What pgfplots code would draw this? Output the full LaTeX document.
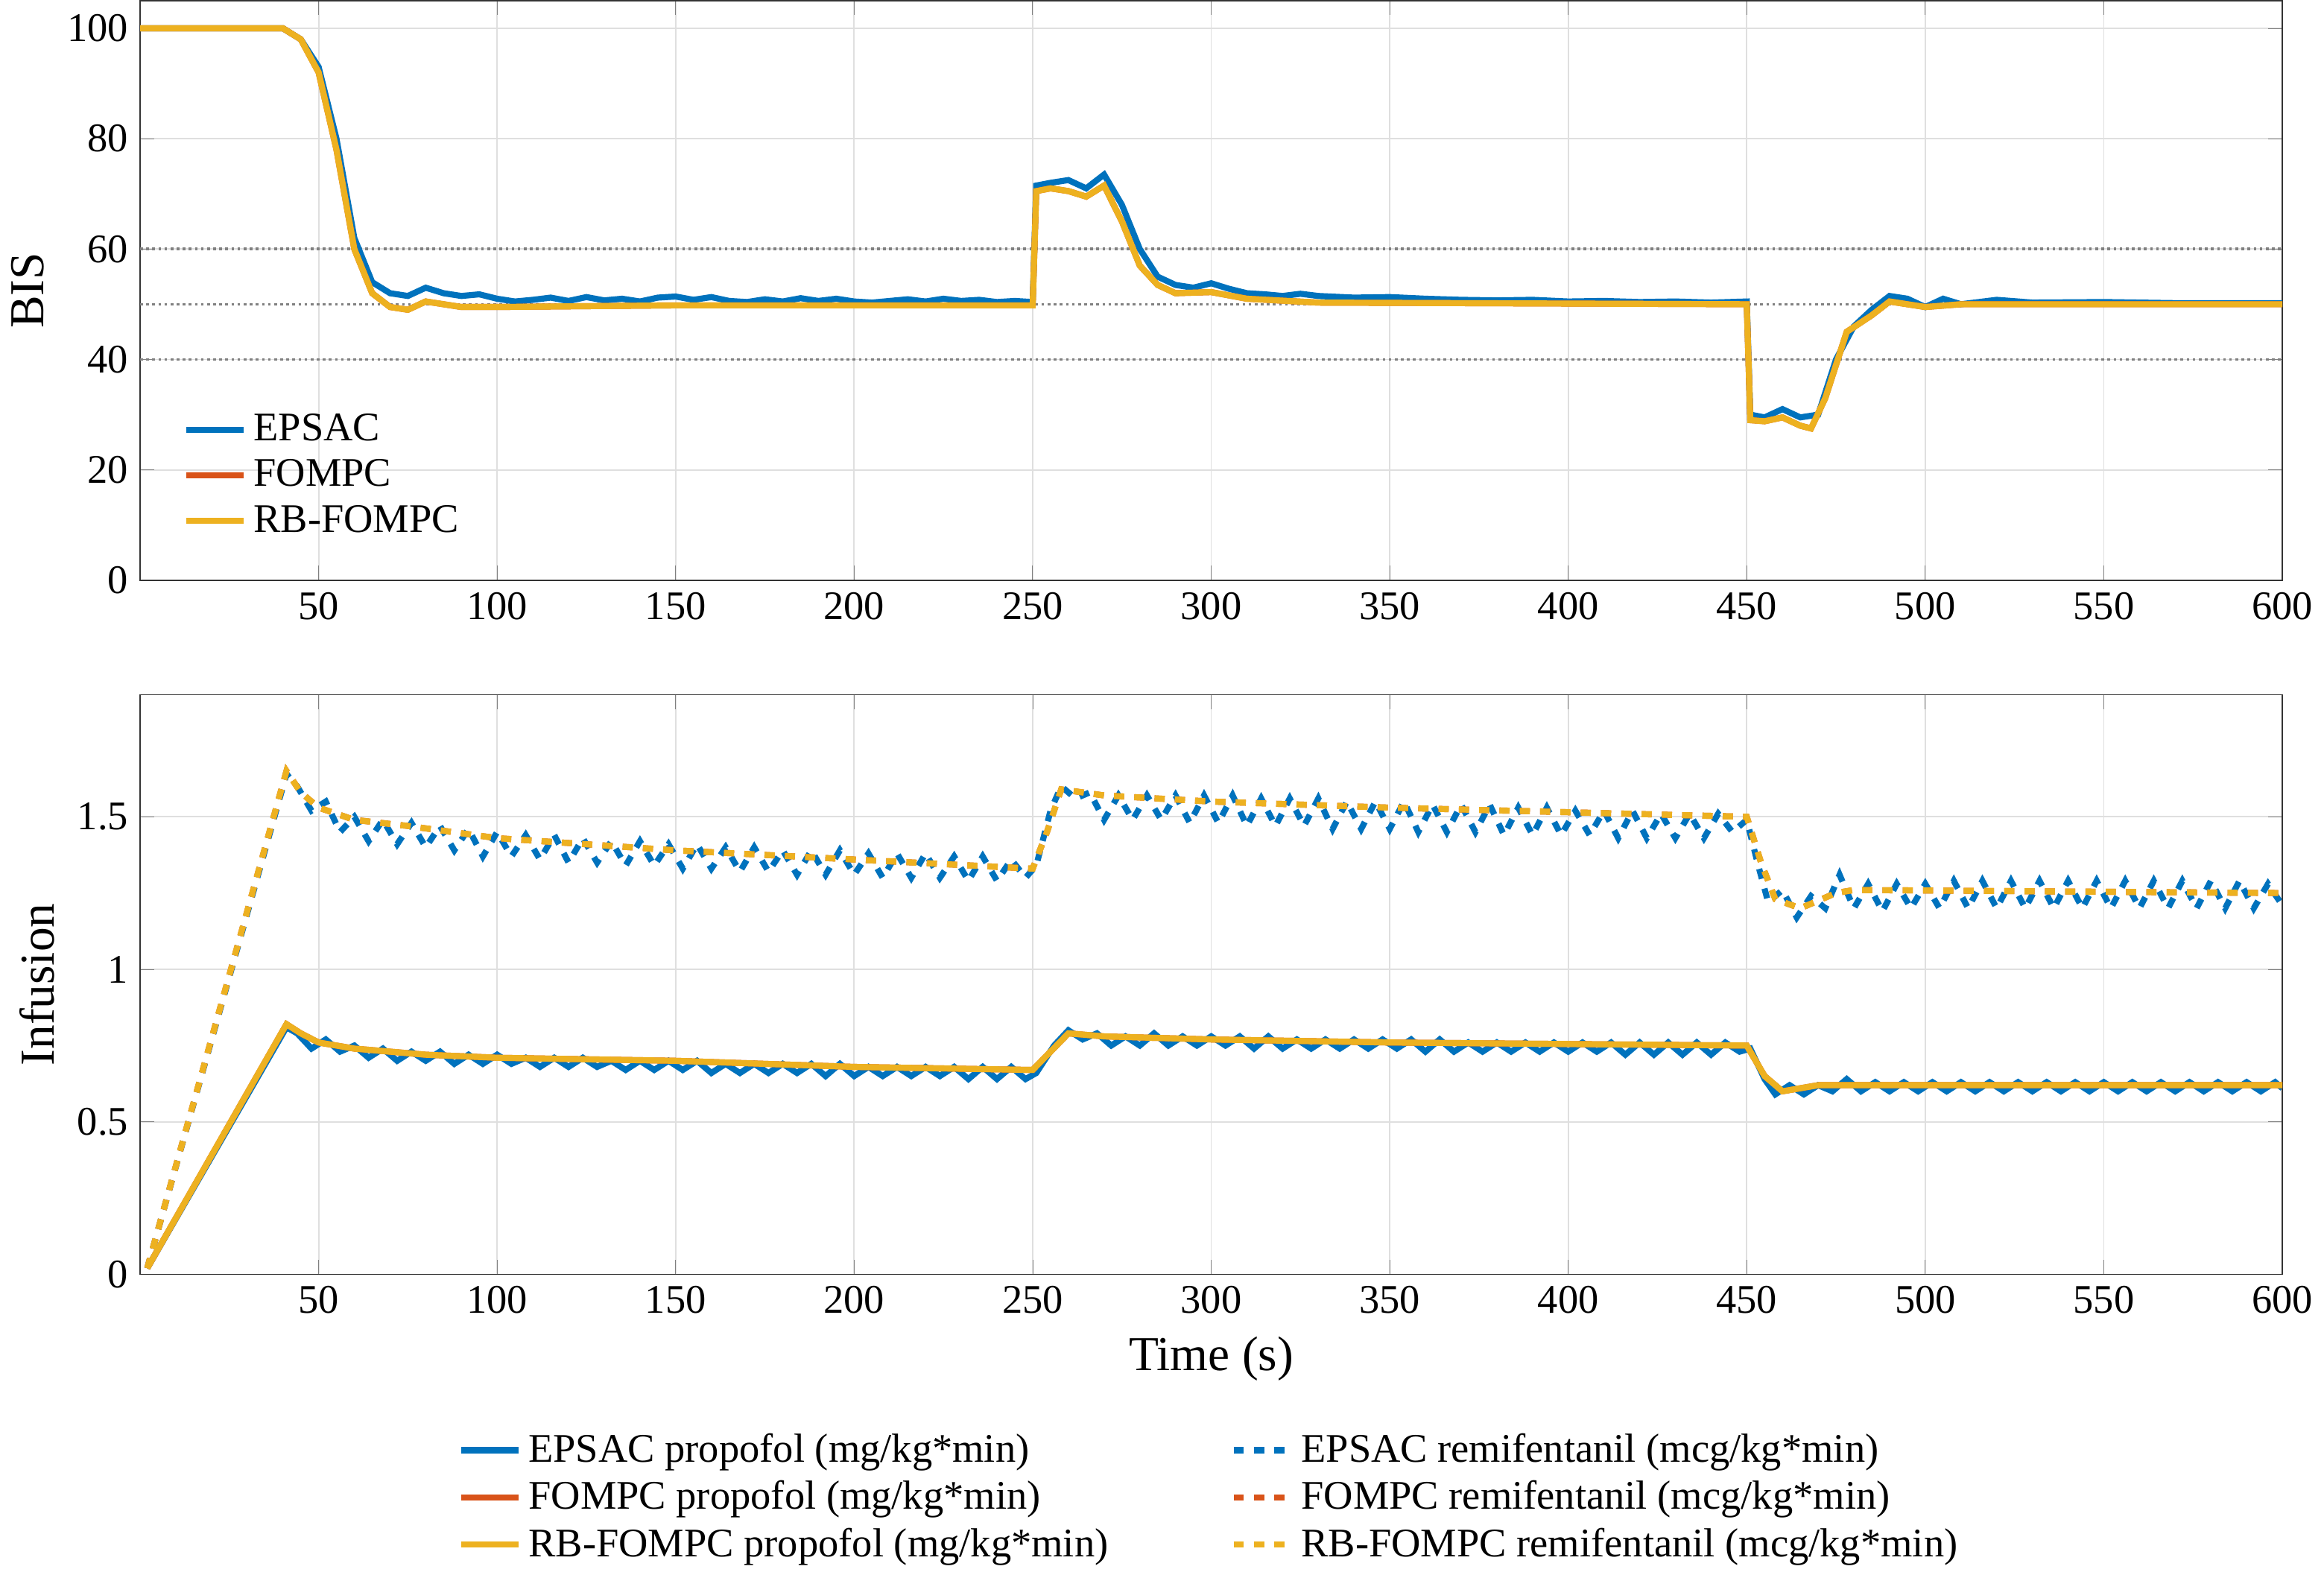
\documentclass[border=0pt]{standalone}
\usepackage{pgfplots}
\pgfplotsset{compat=1.18}
\usetikzlibrary{calc}
\usepackage{fontspec}
\setmainfont{Liberation Serif}
\definecolor{mb}{rgb}{0,0.447,0.741}
\definecolor{mo}{rgb}{0.85,0.325,0.098}
\definecolor{my}{rgb}{0.929,0.694,0.125}
\begin{document}
\begin{tikzpicture}
\pgfplotsset{every axis/.append style={scale only axis,width=22.25cm,height=6.02cm,xmin=0,xmax=600,
 xtick={50,100,...,600},grid=major,grid style={gray!25},tick align=inside,
 /pgf/number format/assume math mode=true,tick label style={font=\large},label style={font=\Large},
 axis line style={black!80}}}
\begin{axis}[name=top,ymin=0,ymax=105,ytick={0,20,...,100},ylabel={BIS},
 legend style={at={(0.015,0.05)},anchor=south west,draw=none,fill=none,font=\large},legend cell align=left]
\addplot[gray,densely dotted,thick,forget plot] coordinates {(0,60)(600,60)};
\addplot[gray,densely dotted,thick,forget plot] coordinates {(0,50)(600,50)};
\addplot[gray,densely dotted,thick,forget plot] coordinates {(0,40)(600,40)};
\addplot[mb,line width=1.8pt] coordinates {(0,100)(40,100)(45,98)(50,93)(55,80)(60,62)(65,54)(70,52)(75,51.5)(80,53)(85,52)(90,51.5)(95,51.8)(100,51)(105,50.5)(110,50.8)(115,51.2)(120,50.6)(125,51.3)(130,50.7)(135,51)(140,50.5)(145,51.2)(150,51.4)(155,50.8)(160,51.3)(165,50.6)(170,50.4)(175,50.9)(180,50.5)(185,51.1)(190,50.6)(195,51)(200,50.5)(205,50.3)(210,50.6)(215,50.9)(220,50.5)(225,51)(230,50.6)(235,50.8)(240,50.4)(245,50.6)(250,50.4)(251,71.5)(255,72)(260,72.5)(265,71)(270,73.5)(275,68)(280,60)(285,55)(290,53.5)(295,53)(300,53.8)(305,52.8)(310,52)(315,51.8)(320,51.5)(325,51.9)(330,51.5)(340,51.2)(350,51.3)(360,51)(370,50.8)(380,50.7)(390,50.8)(400,50.5)(410,50.6)(420,50.4)(430,50.5)(440,50.3)(450,50.5)(451,30)(455,29.5)(460,31)(465,29.5)(470,30)(475,40)(480,46)(485,49)(490,51.5)(495,51)(500,49.5)(505,51)(510,50)(520,50.8)(530,50.3)(550,50.4)(570,50.2)(600,50.2)};
\addlegendentry{EPSAC}
\addplot[mo,line width=1.8pt] coordinates {(0,100)(40,100)(45,98)(50,92)(55,78)(60,60)(65,52)(70,49.5)(75,49)(80,50.5)(90,49.5)(100,49.5)(150,49.8)(250,49.8)(251,70.5)(255,71)(260,70.5)(265,69.5)(270,71.5)(275,65)(280,57)(285,53.5)(290,52)(300,52.2)(310,51)(330,50.3)(450,50)(451,29)(455,28.8)(460,29.5)(465,28)(468,27.5)(472,33)(478,45)(485,48)(490,50.5)(495,50)(500,49.5)(510,50)(600,50)};
\addlegendentry{FOMPC}
\addplot[my,line width=1.8pt] coordinates {(0,100)(40,100)(45,98)(50,92)(55,78)(60,60)(65,52)(70,49.5)(75,49)(80,50.5)(90,49.5)(100,49.5)(150,49.8)(250,49.8)(251,70.5)(255,71)(260,70.5)(265,69.5)(270,71.5)(275,65)(280,57)(285,53.5)(290,52)(300,52.2)(310,51)(330,50.3)(450,50)(451,29)(455,28.8)(460,29.5)(465,28)(468,27.5)(472,33)(478,45)(485,48)(490,50.5)(495,50)(500,49.5)(510,50)(600,50)};
\addlegendentry{RB-FOMPC}
\end{axis}
\begin{axis}[at={($(top.south west)+(0,-1.19cm)$)},anchor=north west,ymin=0,ymax=1.9,ytick={0,0.5,1,1.5},
 ylabel={Infusion},xlabel={Time (s)},
 legend style={at={(0.5,-0.25)},anchor=north,draw=none,fill=none,font=\large},legend columns=2,legend cell align=left,
 legend style={/tikz/every even column/.append style={column sep=1.2cm}}]
\addplot[mb,line width=1.8pt] coordinates {(2,0.02)(41,0.81)(44,0.79)(48,0.74)(52,0.77)(56,0.73)(60,0.75)(64,0.71)(68,0.74)(72,0.70)(76,0.73)(80,0.70)(84,0.73)(88,0.69)(92,0.72)(96,0.69)(100,0.72)(104,0.69)(108,0.71)(112,0.68)(116,0.71)(120,0.68)(124,0.71)(128,0.68)(132,0.70)(136,0.67)(140,0.70)(144,0.67)(148,0.70)(152,0.67)(156,0.70)(160,0.66)(164,0.69)(168,0.66)(172,0.69)(176,0.66)(180,0.69)(184,0.66)(188,0.69)(192,0.65)(196,0.69)(200,0.65)(204,0.68)(208,0.65)(212,0.68)(216,0.65)(220,0.68)(224,0.65)(228,0.68)(232,0.64)(236,0.68)(240,0.64)(244,0.68)(248,0.64)(251,0.66)(256,0.75)(260,0.80)(264,0.77)(268,0.79)(272,0.75)(276,0.78)(280,0.75)(284,0.79)(288,0.75)(292,0.78)(296,0.75)(300,0.78)(304,0.75)(308,0.78)(312,0.74)(316,0.78)(320,0.74)(324,0.77)(328,0.74)(332,0.77)(336,0.74)(340,0.77)(344,0.74)(348,0.77)(352,0.74)(356,0.77)(360,0.73)(364,0.77)(368,0.73)(372,0.76)(376,0.73)(380,0.76)(384,0.73)(388,0.76)(392,0.73)(396,0.76)(400,0.73)(404,0.76)(408,0.73)(412,0.76)(416,0.72)(420,0.76)(424,0.72)(428,0.76)(432,0.72)(436,0.76)(440,0.72)(444,0.76)(448,0.73)(451,0.74)(455,0.64)(458,0.59)(462,0.62)(466,0.59)(470,0.62)(474,0.60)(478,0.64)(482,0.60)(486,0.63)(490,0.60)(494,0.63)(498,0.60)(502,0.63)(506,0.60)(510,0.63)(514,0.60)(518,0.63)(522,0.60)(526,0.63)(530,0.60)(534,0.63)(538,0.60)(542,0.63)(546,0.60)(550,0.63)(554,0.60)(558,0.63)(562,0.60)(566,0.63)(570,0.60)(574,0.63)(578,0.60)(582,0.63)(586,0.60)(590,0.63)(594,0.60)(598,0.63)(600,0.61)};
\addlegendentry{EPSAC propofol (mg/kg*min)}
\addplot[mb,line width=1.8pt,dashed] coordinates {(2,0.02)(41,1.64)(44,1.60)(48,1.52)(52,1.55)(56,1.45)(60,1.50)(64,1.42)(68,1.49)(72,1.41)(76,1.48)(80,1.40)(84,1.47)(88,1.39)(92,1.46)(96,1.37)(100,1.45)(104,1.37)(108,1.44)(112,1.36)(116,1.44)(120,1.35)(124,1.43)(128,1.35)(132,1.42)(136,1.34)(140,1.42)(144,1.34)(148,1.41)(152,1.33)(156,1.41)(160,1.33)(164,1.40)(168,1.32)(172,1.40)(176,1.32)(180,1.39)(184,1.31)(188,1.39)(192,1.31)(196,1.39)(200,1.31)(204,1.38)(208,1.30)(212,1.38)(216,1.30)(220,1.38)(224,1.30)(228,1.37)(232,1.29)(236,1.37)(240,1.29)(244,1.36)(248,1.30)(251,1.34)(255,1.52)(258,1.60)(262,1.56)(266,1.58)(270,1.49)(274,1.57)(278,1.49)(282,1.57)(286,1.49)(290,1.57)(294,1.48)(298,1.57)(302,1.48)(306,1.57)(310,1.47)(314,1.56)(318,1.47)(322,1.56)(326,1.47)(330,1.56)(334,1.46)(338,1.55)(342,1.46)(346,1.55)(350,1.46)(354,1.55)(358,1.45)(362,1.54)(366,1.45)(370,1.54)(374,1.45)(378,1.54)(382,1.44)(386,1.53)(390,1.44)(394,1.53)(398,1.44)(402,1.52)(406,1.44)(410,1.52)(414,1.43)(418,1.52)(422,1.43)(426,1.51)(430,1.43)(434,1.51)(438,1.43)(442,1.51)(446,1.45)(450,1.49)(453,1.35)(456,1.22)(460,1.26)(464,1.17)(468,1.24)(472,1.20)(476,1.31)(480,1.20)(484,1.28)(488,1.19)(492,1.28)(496,1.20)(500,1.28)(504,1.20)(508,1.29)(512,1.20)(516,1.29)(520,1.20)(524,1.29)(528,1.20)(532,1.29)(536,1.20)(540,1.29)(544,1.20)(548,1.29)(552,1.20)(556,1.29)(560,1.20)(564,1.29)(568,1.20)(572,1.29)(576,1.20)(580,1.29)(584,1.20)(588,1.29)(592,1.20)(596,1.28)(600,1.21)};
\addlegendentry{EPSAC remifentanil (mcg/kg*min)}
\addplot[mo,line width=1.8pt] coordinates {(2,0.02)(41,0.82)(45,0.79)(50,0.76)(60,0.74)(80,0.72)(100,0.71)(150,0.70)(200,0.68)(250,0.67)(255,0.73)(260,0.79)(270,0.78)(300,0.77)(350,0.76)(450,0.75)(455,0.65)(460,0.60)(470,0.62)(480,0.62)(600,0.62)};
\addlegendentry{FOMPC propofol (mg/kg*min)}
\addplot[mo,line width=1.8pt,dashed] coordinates {(2,0.02)(41,1.65)(45,1.58)(50,1.53)(60,1.49)(75,1.47)(100,1.43)(150,1.39)(200,1.36)(250,1.33)(254,1.45)(258,1.59)(270,1.57)(300,1.55)(350,1.53)(450,1.50)(454,1.35)(458,1.23)(465,1.20)(475,1.25)(480,1.26)(600,1.25)};
\addlegendentry{FOMPC remifentanil (mcg/kg*min)}
\addplot[my,line width=1.8pt] coordinates {(2,0.02)(41,0.82)(45,0.79)(50,0.76)(60,0.74)(80,0.72)(100,0.71)(150,0.70)(200,0.68)(250,0.67)(255,0.73)(260,0.79)(270,0.78)(300,0.77)(350,0.76)(450,0.75)(455,0.65)(460,0.60)(470,0.62)(480,0.62)(600,0.62)};
\addlegendentry{RB-FOMPC propofol (mg/kg*min)}
\addplot[my,line width=1.8pt,dashed] coordinates {(2,0.02)(41,1.65)(45,1.58)(50,1.53)(60,1.49)(75,1.47)(100,1.43)(150,1.39)(200,1.36)(250,1.33)(254,1.45)(258,1.59)(270,1.57)(300,1.55)(350,1.53)(450,1.50)(454,1.35)(458,1.23)(465,1.20)(475,1.25)(480,1.26)(600,1.25)};
\addlegendentry{RB-FOMPC remifentanil (mcg/kg*min)}
\end{axis}
\end{tikzpicture}
\end{document}
